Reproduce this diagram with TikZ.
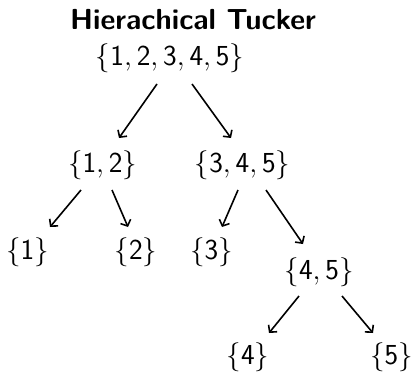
\RequirePackage{fix-cm}
\documentclass[tikz,border=0pt]{standalone}
\usetikzlibrary{arrows.meta}
\begin{document}
\begin{tikzpicture}[x=1pt,y=-1pt,
  setnode/.style={inner sep=0pt,font=\fontsize{29}{34}\selectfont},
  edge/.style={line width=1.6pt,-{Straight Barb[length=5pt,width=11pt]}},
  titlenode/.style={inner sep=0pt,anchor=base,font=\fontsize{29}{34}\selectfont\sffamily\bfseries}]
\useasboundingbox (0,0) rectangle (415,372);
\node[titlenode] (title) at (193,29) {Hierachical Tucker};
\node[setnode] (root) at (170,58) {$\mathsf{\{1,2,3,4,5\}}$};
\node[setnode] (n12) at (102.5,165) {$\mathsf{\{1,2\}}$};
\node[setnode] (n345) at (242.5,165) {$\mathsf{\{3,4,5\}}$};
\node[setnode] (n1) at (27.5,252.5) {$\mathsf{\{1\}}$};
\node[setnode] (n2) at (136,252.5) {$\mathsf{\{2\}}$};
\node[setnode] (n3) at (211.5,252.5) {$\mathsf{\{3\}}$};
\node[setnode] (n45) at (319,272.5) {$\mathsf{\{4,5\}}$};
\node[setnode] (n4) at (248,357.5) {$\mathsf{\{4\}}$};
\node[setnode] (n5) at (391.5,357.5) {$\mathsf{\{5\}}$};
\draw[edge] ([shift={(-13,26)}]root.center) -- ([shift={(16.5,-27)}]n12.center);
\draw[edge] ([shift={(22,26)}]root.center) -- ([shift={(-11.5,-27)}]n345.center);
\draw[edge] ([shift={(-21.5,25)}]n12.center) -- ([shift={(22.5,-25.5)}]n1.center);
\draw[edge] ([shift={(9.5,25)}]n12.center) -- ([shift={(-8,-25.5)}]n2.center);
\draw[edge] ([shift={(-4.5,25)}]n345.center) -- ([shift={(10.5,-25.5)}]n3.center);
\draw[edge] ([shift={(23.5,25)}]n345.center) -- ([shift={(-16,-28.5)}]n45.center);
\draw[edge] ([shift={(-20,23.5)}]n45.center) -- ([shift={(21,-24.5)}]n4.center);
\draw[edge] ([shift={(23,23.5)}]n45.center) -- ([shift={(-18.5,-24.5)}]n5.center);
\end{tikzpicture}
\end{document}
